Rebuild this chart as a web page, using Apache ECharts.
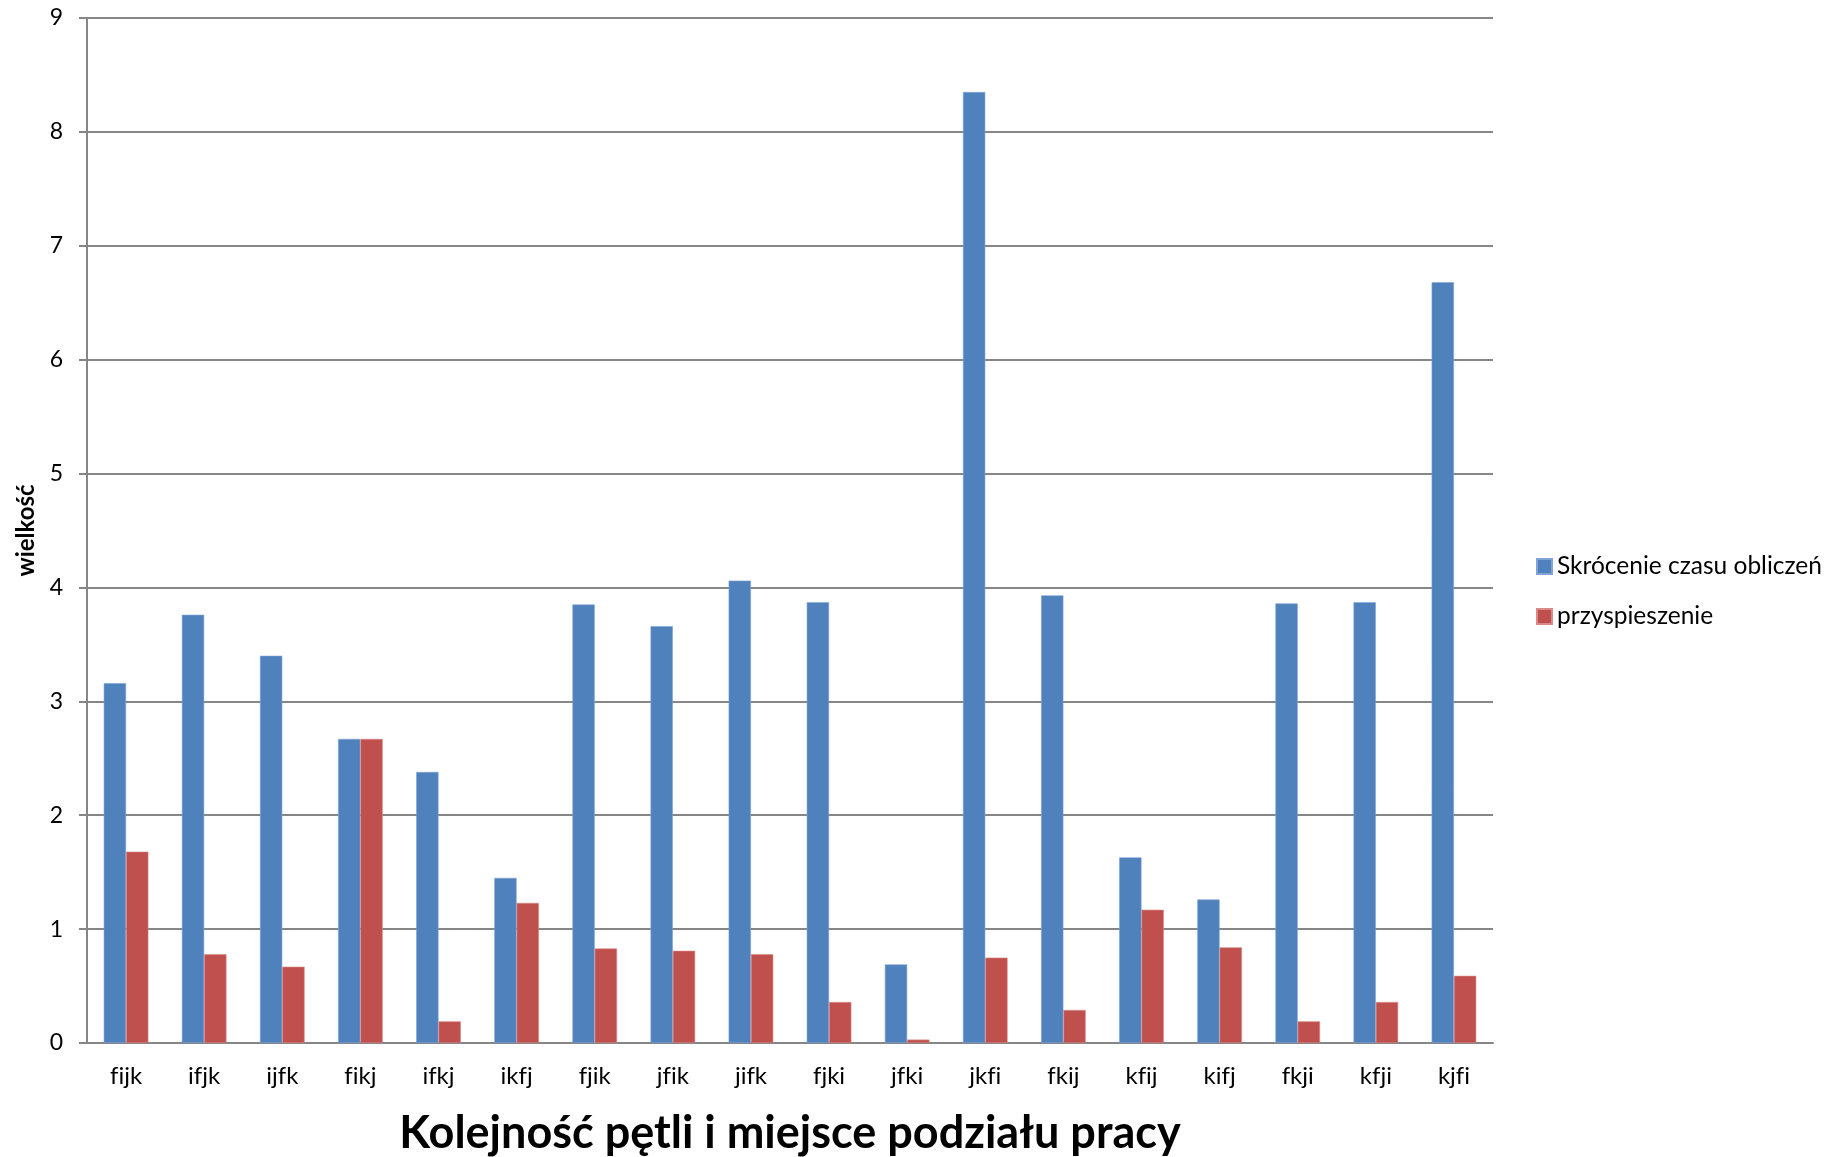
<!DOCTYPE html>
<html>
<head>
<meta charset="utf-8">
<script src="https://cdn.jsdelivr.net/npm/echarts@6/dist/echarts.min.js"></script>
<style>
html,body{margin:0;padding:0;background:#fff;}
#chart{width:1841px;height:1157px;}
</style>
</head>
<body>
<div id="chart"></div>
<script>
const categories = ['fijk','ifjk','ijfk','fikj','ifkj','ikfj','fjik','jfik','jifk','fjki','jfki','jkfi','fkij','kfij','kifj','fkji','kfji','kjfi'];
const skrocenie = [3.16,3.76,3.40,2.67,2.38,1.45,3.85,3.66,4.06,3.87,0.69,8.35,3.93,1.63,1.26,3.86,3.87,6.68];
const przyspieszenie = [1.68,0.78,0.67,2.67,0.19,1.23,0.83,0.81,0.78,0.36,0.03,0.75,0.29,1.17,0.84,0.19,0.36,0.59];
const yTicks = [0,1,2,3,4,5,6,7,8,9];

const FONT = 'Lato';
const chart = echarts.init(document.getElementById('chart'), null, {renderer:'canvas'});
chart.setOption({
  animation:false,
  backgroundColor:'#ffffff',
  textStyle:{fontFamily:FONT,color:'#000'},
  grid:{left:87,top:18,right:348,bottom:114,containLabel:false,outerBoundsMode:'none'},
  legend:{
    orient:'vertical',left:1531,top:549,
    itemWidth:15,itemHeight:15,itemGap:25,
    icon:'rect',
    textStyle:{fontFamily:FONT,fontSize:24.5,color:'#000'},
    data:['Skrócenie czasu obliczeń','przyspieszenie']
  },
  xAxis:{
    type:'category',data:categories,
    axisLine:{lineStyle:{color:'#868686',width:2}},
    axisTick:{show:false},
    axisLabel:{
      interval:0,hideOverlap:false,
      fontFamily:FONT,fontSize:24,color:'#000',margin:21,
      formatter:function(v){return v.split('').map(function(c){return '{c|'+c+'}';}).join('');},
      rich:{c:{fontFamily:FONT,fontSize:24,color:'#000'}}
    },
    name:'Kolejność pętli i miejsce podziału pracy',
    nameLocation:'middle',nameGap:68,
    nameTextStyle:{fontFamily:FONT,fontSize:45,fontWeight:'bold',color:'#000'}
  },
  yAxis:{
    type:'value',min:yTicks[0],max:yTicks[yTicks.length-1],interval:1,
    axisLine:{show:true,lineStyle:{color:'#868686',width:2}},
    axisTick:{show:true,length:8,lineStyle:{color:'#868686',width:2}},
    axisLabel:{fontFamily:FONT,fontSize:23,color:'#000',margin:24},
    splitLine:{lineStyle:{color:'#868686',width:2}},
    name:'wielkość',nameLocation:'middle',nameGap:49,
    nameTextStyle:{fontFamily:FONT,fontSize:24,fontWeight:'bold',color:'#000'}
  },
  series:[
    {name:'Skrócenie czasu obliczeń',type:'bar',data:skrocenie,barGap:'0%',barCategoryGap:'42.86%',
     itemStyle:{color:'#4F81BD',borderColor:'#7FA4D4',borderWidth:0.6}},
    {name:'przyspieszenie',type:'bar',data:przyspieszenie,barGap:'0%',barCategoryGap:'42.86%',
     itemStyle:{color:'#C0504D',borderColor:'#D98A88',borderWidth:0.6}}
  ]
});
</script>
</body>
</html>
